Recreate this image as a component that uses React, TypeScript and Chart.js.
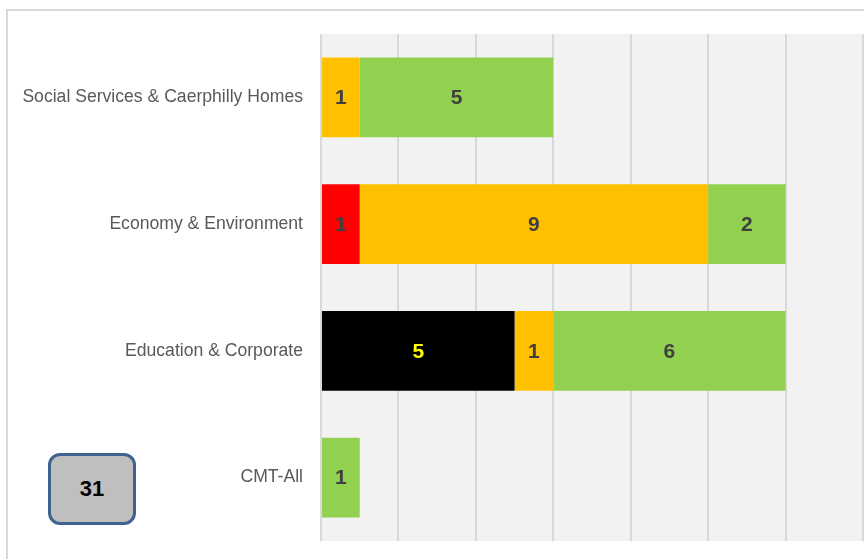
import React, { useEffect, useRef } from "react";
import { Chart, registerables } from "chart.js";

Chart.register(...registerables);

const categories = [
  "Social Services & Caerphilly Homes",
  "Economy & Environment",
  "Education & Corporate",
  "CMT-All",
];
const blackValues = [0, 0, 5, 0];
const redValues = [0, 1, 0, 0];
const amberValues = [1, 9, 1, 0];
const greenValues = [5, 2, 6, 1];
const totalLabel = "31";

const bgPlugin = {
  id: "plotBg",
  beforeDraw(chart: any) {
    const { ctx, chartArea } = chart;
    ctx.save();
    ctx.fillStyle = "#f2f2f2";
    ctx.fillRect(chartArea.left, chartArea.top, chartArea.right - chartArea.left, chartArea.bottom - chartArea.top);
    ctx.restore();
  },
};

const labelPlugin = {
  id: "barLabels",
  afterDatasetsDraw(chart: any) {
    const { ctx } = chart;
    ctx.save();
    ctx.font = "bold 21px 'Liberation Sans', Arial, sans-serif";
    ctx.textAlign = "center";
    ctx.textBaseline = "middle";
    chart.data.datasets.forEach((ds: any, di: number) => {
      const meta = chart.getDatasetMeta(di);
      meta.data.forEach((el: any, i: number) => {
        const v = ds.data[i];
        if (!v) return;
        const p = el.getProps(["x", "y", "base"], true);
        ctx.fillStyle = ds.labelColor || "#404040";
        ctx.fillText(String(v), (p.x + p.base) / 2, p.y + 1);
      });
    });
    ctx.restore();
  },
};

export default function App() {
  const ref = useRef<HTMLCanvasElement>(null);
  useEffect(() => {
    const mk = (label: string, data: number[], color: string, labelColor: string) => ({
      label,
      data,
      backgroundColor: color,
      borderWidth: 0,
      barPercentage: 1,
      categoryPercentage: 0.63,
      labelColor,
    });
    const chart = new Chart(ref.current!, {
      type: "bar",
      data: {
        labels: categories,
        datasets: [
          mk("Black", blackValues, "#000000", "#ffff00"),
          mk("Red", redValues, "#ff0000", "#404040"),
          mk("Amber", amberValues, "#ffc000", "#404040"),
          mk("Green", greenValues, "#92d050", "#404040"),
        ] as any,
      },
      options: {
        indexAxis: "y",
        animation: false,
        responsive: false,
        layout: { padding: { top: 34, bottom: 18, left: 0, right: 1 } },
        plugins: { legend: { display: false }, tooltip: { enabled: false } },
        scales: {
          x: {
            stacked: true,
            min: 0,
            max: 14,
            ticks: { display: false, stepSize: 2 },
            grid: { color: "#d9d9d9", lineWidth: 2, drawTicks: false },
            border: { display: false },
            afterFit(scale: any) {
              scale.height = 0;
              scale.paddingLeft = 0;
              scale.paddingRight = 0;
            },
          },
          y: {
            stacked: true,
            grid: { display: false, drawTicks: false },
            border: { display: false },
            ticks: {
              color: "#595959",
              padding: 18,
              font: { family: "'Liberation Sans', Arial, sans-serif", size: 17.6 },
            },
            afterFit(scale: any) {
              scale.width = 321;
              scale.paddingTop = 0;
              scale.paddingBottom = 0;
            },
          },
        },
      } as any,
      plugins: [bgPlugin, labelPlugin],
    });
    return () => chart.destroy();
  }, []);

  return (
    <div
      style={{
        position: "fixed",
        left: 0,
        top: 0,
        width: 864,
        height: 559,
        background: "#ffffff",
        overflow: "hidden",
      }}
    >
      <div
        style={{
          position: "absolute",
          left: 6,
          top: 9,
          width: 900,
          height: 600,
          border: "2px solid #d9d9d9",
        }}
      />
      <canvas
        ref={ref}
        width={864}
        height={559}
        style={{ position: "absolute", left: 0, top: 0, width: 864, height: 559 }}
      />
      <div
        style={{
          position: "absolute",
          left: 48,
          top: 453,
          width: 88,
          height: 72,
          boxSizing: "border-box",
          border: "3px solid #3f6390",
          borderRadius: 12,
          background: "#bfbfbf",
          display: "flex",
          alignItems: "center",
          justifyContent: "center",
          fontFamily: "'Liberation Sans', Arial, sans-serif",
          fontWeight: "bold",
          fontSize: 22,
          color: "#000000",
        }}
      >
        {totalLabel}
      </div>
    </div>
  );
}
